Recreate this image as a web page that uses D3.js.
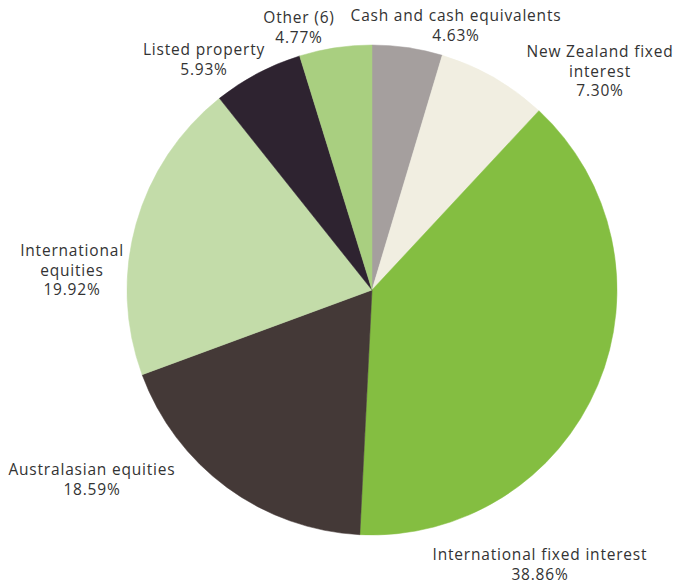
<!DOCTYPE html>
<html>
<head>
<meta charset="utf-8">
<script src="https://cdn.jsdelivr.net/npm/d3@7"></script>
<style>
  body { margin: 0; background: #fff; }
  text { font-family: "Open Sans", "Noto Sans", sans-serif; font-size: 15.5px; letter-spacing: 0.8px; fill: #333; }
</style>
</head>
<body>
<div id="chart"></div>
<script>
"use strict";

// Slices, clockwise from 12 o'clock
var categories = ["Cash and cash equivalents", "New Zealand fixed interest", "International fixed interest",
    "Australasian equities", "International equities", "Listed property", "Other (6)"];
var values = [4.63, 7.30, 38.86, 18.59, 19.92, 5.93, 4.77];
var colors = ["#a59f9e", "#f1eee1", "#84be41", "#443937", "#c3dca9", "#2e2330", "#a9cf80"];

// label lines (last line is the percentage) and where each block sits
var labelLines = [
    ["Cash and cash equivalents"],
    ["New Zealand fixed", "interest"],
    ["International fixed interest"],
    ["Australasian equities"],
    ["International", "equities"],
    ["Listed property"],
    ["Other (6)"]
];
var labelPos = [[456, 21], [600, 57], [540, 560], [92, 475], [72, 256], [204, 55], [299, 23]];

var width = 677, height = 586;
var cx = 372, cy = 290, radius = 245;

var svg = d3.select("#chart").append("svg")
    .attr("width", width)
    .attr("height", height);

var g = svg.append("g")
    .attr("transform", "translate(" + cx + "," + cy + ")");

var pie = d3.pie().sort(null).value(function (d) { return d; });
var arc = d3.arc().innerRadius(0).outerRadius(radius);

g.selectAll("path")
    .data(pie(values))
    .enter().append("path")
    .attr("d", arc)
    .attr("fill", function (d, i) { return colors[i]; })
    .attr("stroke", function (d, i) { return colors[i]; })
    .attr("stroke-width", 0.5);

// Labels, one text per line
values.forEach(function (v, i) {
    var lines = labelLines[i].concat([v.toFixed(2) + "%"]);
    svg.selectAll(null)
        .data(lines)
        .enter().append("text")
        .attr("class", "label")
        .attr("text-anchor", "middle")
        .attr("x", labelPos[i][0])
        .attr("y", function (d, j) { return labelPos[i][1] + j * 19.5; })
        .text(function (d) { return d; });
});
</script>
</body>
</html>
